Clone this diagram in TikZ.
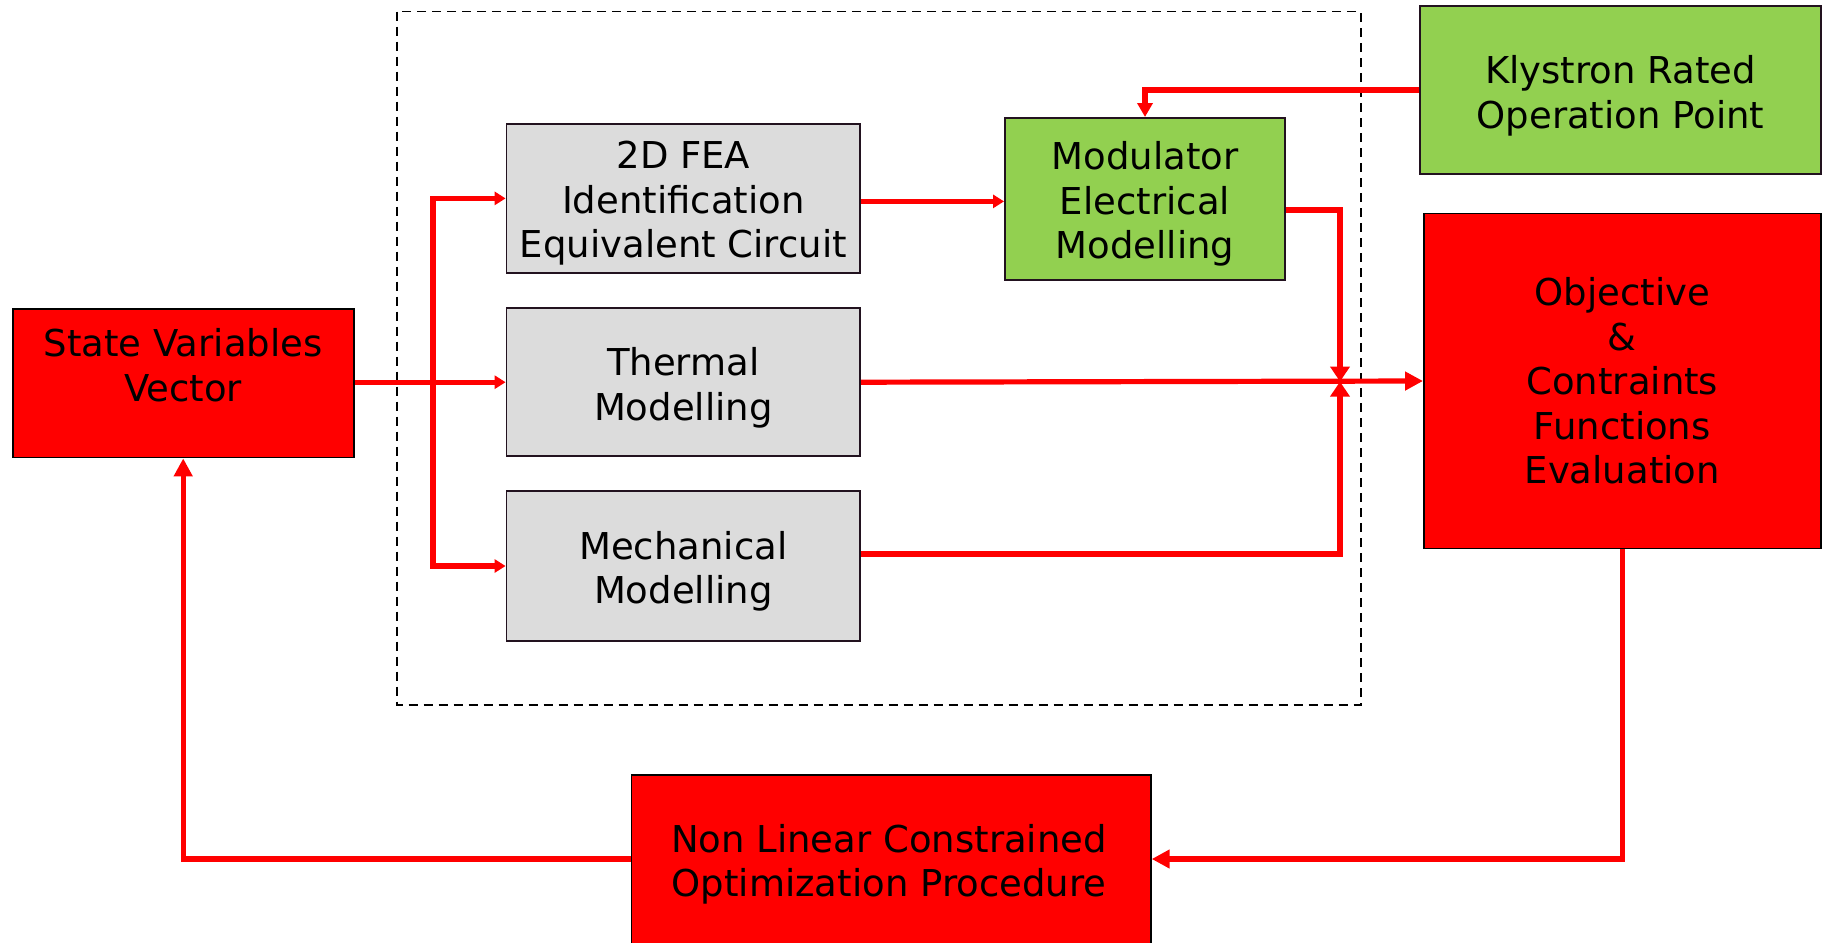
\documentclass[tikz,border=0pt]{standalone}
\usepackage{fontspec}
\setmainfont{DejaVu Sans}
\usetikzlibrary{arrows.meta}
\definecolor{boxred}{HTML}{FF0000}
\definecolor{boxgreen}{HTML}{92D050}
\definecolor{boxgrey}{HTML}{DCDCDC}
\definecolor{boxline}{HTML}{22121F}
\definecolor{wirered}{HTML}{FF0000}
\begin{document}
\begin{tikzpicture}[x=1pt,y=-1pt,
  box/.style={draw=boxline, line width=1.8pt, inner sep=0pt},
  redbox/.style={box, fill=boxred, draw=black},
  greenbox/.style={box, fill=boxgreen},
  greybox/.style={box, fill=boxgrey},
  txt/.style={align=center, inner sep=0pt, font=\fontsize{37}{44.5}\selectfont},
  wire/.style={draw=wirered, line width=5.2pt},
  bigtip/.style={wire, -{Triangle[length=18pt,width=18pt]}},
  midtip/.style={wire, -{Triangle[length=14pt,width=15pt]}},
  smalltip/.style={wire, -{Triangle[length=11pt,width=13pt]}},
  jointip/.style={wire, -{Triangle[length=15pt,width=19pt]}},
  frame/.style={draw=black, line width=1.5pt, dash pattern=on 9pt off 6pt}
]
\useasboundingbox (0,0) rectangle (1830,942);
\clip (0,0) rectangle (1830,942);
\fill[white] (0,0) rectangle (1830,942);

% dashed frame around the physics models
\draw[frame] (396.8,11.7) rectangle (1360.8,704.9);

% blocks
\node[redbox, minimum width=340.8, minimum height=148.2] (svv) at (183.2,383.4) {};
\node[txt] (svvtext) at (183.2,365) {State Variables\\Vector};

\node[greybox, minimum width=353.7, minimum height=149.4] (fea) at (683.35,198.4) {};
\node[txt] (featext) at ([yshift=-5pt]fea.center) {2D FEA\\Identification\\Equivalent Circuit};

\node[greybox, minimum width=353.7, minimum height=148.2] (therm) at (683.35,382.2) {};
\node[txt] (thermtext) at ([yshift=-5.5pt]therm.center) {Thermal\\Modelling};

\node[greybox, minimum width=353.7, minimum height=149.4] (mech) at (683.35,566) {};
\node[txt] (mechtext) at ([yshift=-5.5pt]mech.center) {Mechanical\\Modelling};

\node[greenbox, minimum width=280.1, minimum height=162.2] (modu) at (1145,199) {};
\node[txt] (modutext) at ([yshift=-5pt]modu.center) {Modulator\\Electrical\\Modelling};

\node[greenbox, minimum width=400.3, minimum height=168.1] (kly) at (1620.5,89.9) {};
\node[txt] (klytext) at ([yshift=-6pt]kly.center) {Klystron Rated\\Operation Point};

\node[redbox, minimum width=396.8, minimum height=334.9] (obj) at (1622.3,381) {};
\node[txt] (objtext) at (obj.center) {Objective\\\&\\Contraints\\Functions\\Evaluation};

\node[redbox, minimum width=519.4, minimum height=225] (nlc) at (891.1,887.5) {};
\node[txt] (nlctext) at (889,864.5) {Non Linear Constrained\\Optimization Procedure};

% connectors
\coordinate (br) at (433,382.2);
\coordinate (jn) at (1340,381.6);
\coordinate (modout) at ([yshift=-11pt]modu.east);
\coordinate (mechout) at ([yshift=12pt]mech.east);
\coordinate (nlcin) at ([yshift=28.5pt]nlc.east);
\coordinate (nlcout) at ([yshift=28.5pt]nlc.west);

\draw[smalltip] (therm.west -| svv.east) -- (therm.west);
\draw[smalltip] (br) |- (fea.west);
\draw[smalltip] (br) |- (mech.west);
\draw[smalltip] ([yshift=-3pt]fea.east) -- ([yshift=-3pt]fea.east -| modu.west);
\draw[midtip] (kly.west) -| (modu.north);
\draw[jointip] (modout) -| (jn);
\draw[jointip] (mechout) -| (jn);
\draw[bigtip] (therm.east) -- (obj.west);
\draw[bigtip] (obj.south) |- (nlcin);
\draw[bigtip] (nlcout) -| (svv.south);
\end{tikzpicture}
\end{document}
